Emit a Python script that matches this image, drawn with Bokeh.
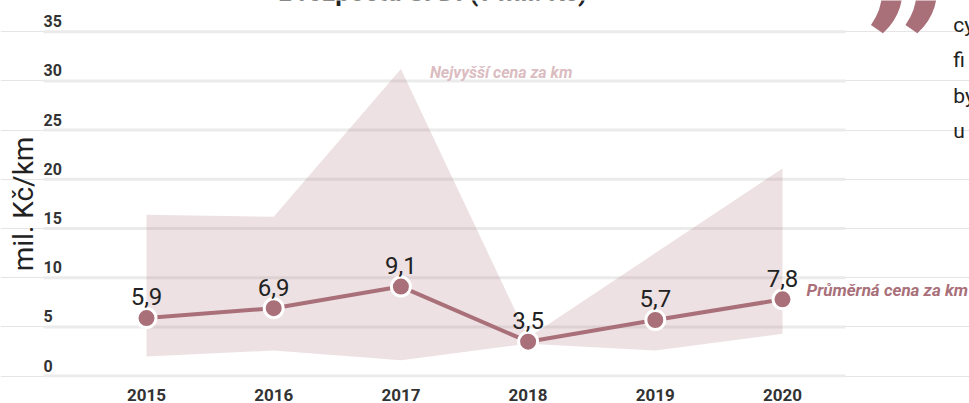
import math
from bokeh.plotting import figure
from bokeh.models import Range1d, FixedTicker, Label
from bokeh.core.properties import value
from bokeh.embed import file_html
from bokeh.resources import INLINE

# ---------------- data ----------------
years = [2015, 2016, 2017, 2018, 2019, 2020]
year_labels = ["2015", "2016", "2017", "2018", "2019", "2020"]
avg_price = [5.9, 6.9, 9.1, 3.5, 5.7, 7.8]      # Průměrná cena za km
max_price = [16.4, 16.2, 31.2, 3.9, 12.5, 21.1]  # Nejvyšší cena za km
min_price = [2.0, 2.6, 1.6, 3.3, 2.6, 4.3]       # nejnižší cena za km
y_ticks = [0, 5, 10, 15, 20, 25, 30, 35]
y_tick_labels = ["0", "5", "10", "15", "20", "25", "30", "35"]
value_labels = [f"{v:.1f}".replace(".", ",") for v in avg_price]

title_text = "z rozpočtu SFDI (v mil. Kč)"
y_title = "mil. Kč/km"
max_label = "Nejvyšší cena za km"
avg_label = "Průměrná cena za km"
side_lines = ["cy", "fi", "by", "u"]

# ---------------- layout (pixel helpers for annotations only) ----------------
W, H = 969, 403
MB = 25
FW, FH = W, H - MB
PX_PER_YEAR = 127.2
PX_PER_UNIT = 9.867
X0 = 2015 - 146 / PX_PER_YEAR
X1 = X0 + FW / PX_PER_YEAR
Y0 = -(FH - 376.6) / PX_PER_UNIT
Y1 = Y0 + FH / PX_PER_UNIT

def xd(px):
    return X0 + px / PX_PER_YEAR

def yd(py):
    return Y1 - py / PX_PER_UNIT

GRID_X0, GRID_X1 = xd(43), xd(845)

MAIN = "#a9707a"
BAND = "#a56a72"
FONT = "Roboto"

p = figure(width=W, height=H,
           x_range=Range1d(X0, X1), y_range=Range1d(Y0, Y1),
           output_backend="svg", toolbar_location=None, y_axis_location=None,
           min_border=0, min_border_left=0, min_border_right=0,
           min_border_top=0, min_border_bottom=MB)
p.outline_line_color = None
p.background_fill_color = "white"
p.border_fill_color = "white"
p.xgrid.visible = False

ax = p.xaxis[0]
ax.ticker = FixedTicker(ticks=years)
ax.major_label_overrides = {y: l for y, l in zip(years, year_labels)}
ax.axis_line_color = None
ax.major_tick_line_color = None
ax.minor_tick_line_color = None
ax.major_tick_out = 0
ax.major_tick_in = 0
ax.major_label_standoff = 11
ax.major_label_text_line_height = 0.6
ax.major_label_text_font = FONT
ax.major_label_text_font_size = "17px"
ax.major_label_text_font_style = "bold"
ax.major_label_text_color = "#333333"

# horizontal grid lines
n = len(y_ticks)
p.segment(x0=[GRID_X0] * n, y0=y_ticks, x1=[GRID_X1] * n, y1=y_ticks,
          line_color="#ebebeb", line_width=3)

# y tick labels sitting above grid lines
p.text(x=[GRID_X0] * n, y=y_ticks, text=y_tick_labels,
       text_align="left", text_baseline="middle", y_offset=-10.4,
       text_font=value(FONT), text_font_size="16px", text_font_style="bold",
       text_color="#333333")

# band min..max
p.varea(x=years, y1=min_price, y2=max_price, fill_color=BAND, fill_alpha=0.2)

# average line and points
p.line(years, avg_price, line_color=MAIN, line_width=4)
p.scatter(years, avg_price, size=19, fill_color=MAIN, line_color="white",
          line_width=3)
p.text(x=years, y=avg_price, text=value_labels, text_align="center",
       text_baseline="middle", y_offset=-21.2,
       text_font=value(FONT), text_font_size="24px", text_color="#222222")

# series labels
p.add_layout(Label(x=years[2], y=max_price[2], x_offset=29, y_offset=-3,
                   text=max_label, text_font=FONT, text_font_size="16px",
                   text_font_style="bold italic", text_color="#dbbcc1",
                   text_align="left", text_baseline="middle"))
p.add_layout(Label(x=years[-1], y=avg_price[-1], x_offset=24, y_offset=9.5,
                   text=avg_label, text_font=FONT, text_font_size="17px",
                   text_font_style="bold italic", text_color=MAIN,
                   text_align="left", text_baseline="middle"))

# axis title
p.add_layout(Label(x=xd(22.5), y=yd(204), text=y_title, angle=math.pi / 2,
                   text_font=FONT, text_font_size="28px", text_color="#222222",
                   text_align="center", text_baseline="middle"))

# cut-off title at the top
p.add_layout(Label(x=xd(432.5), y=yd(-8.5), text=title_text,
                   text_font=FONT, text_font_size="26px", text_font_style="bold",
                   text_color="#222222", text_align="center",
                   text_baseline="middle"))

# quote mark and cut-off side text
p.add_layout(Label(x=xd(946), y=yd(72), text="\u201d",
                   text_font=FONT, text_font_size="230px", text_color=MAIN,
                   text_align="right", text_baseline="alphabetic"))
for i, s in enumerate(side_lines):
    p.add_layout(Label(x=xd(952.7), y=yd(24.1 + 35.7 * i), text=s,
                       text_font=FONT, text_font_size="21px",
                       text_color="#222222", text_align="left",
                       text_baseline="middle"))

open("out.html", "w").write(file_html(p, INLINE))
